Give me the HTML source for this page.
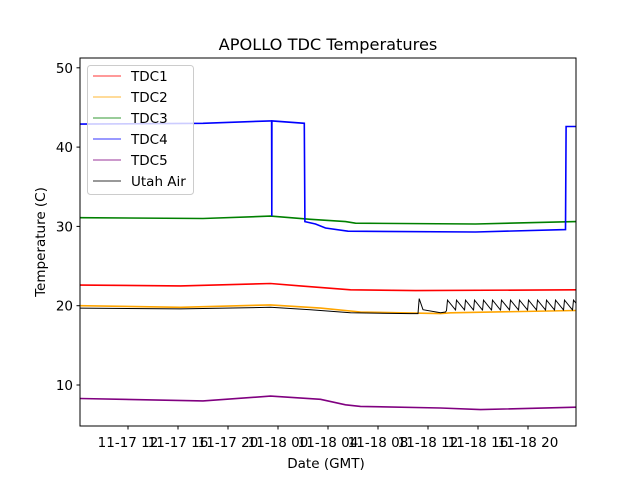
<!DOCTYPE html>
<html><head><meta charset="utf-8"><style>
body{margin:0;background:#fff;}
svg text{font-family:"DejaVu Sans","Liberation Sans",sans-serif;}
</style></head><body>
<svg id="chart" width="640" height="480" xmlns="http://www.w3.org/2000/svg">
<rect width="640" height="480" fill="#fff"/>
<text x="328" y="50" font-size="16.2" text-anchor="middle">APOLLO TDC Temperatures</text>
<g id="plot"></g>
<rect x="80" y="58" width="496" height="368" fill="none" stroke="#000" stroke-width="1"/>
<g id="axes"></g>
<text x="326" y="468" font-size="13.5" text-anchor="middle">Date (GMT)</text>
<text transform="translate(45,242) rotate(-90)" font-size="13.5" text-anchor="middle">Temperature (C)</text>
<g id="legend"></g>
</svg>
<script>
// hours since 11-17 00:00 GMT
const yTicks=[10,20,30,40,50];
const xTickHours=[12,16,20,24,28,32,36,40,44];
const xTickLabels=["11-17 12","11-17 16","11-17 20","11-18 00","11-18 04","11-18 08","11-18 12","11-18 16","11-18 20"];
const seriesNames=["TDC1","TDC2","TDC3","TDC4","TDC5","Utah Air"];
const seriesColors=["red","orange","green","blue","purple","black"];
const tdc1H=[8.16,16.2,23.4,25.8,29.8,35,47.84];
const tdc1V=[22.6,22.5,22.8,22.5,22.0,21.9,22.0];
const tdc2H=[8.16,16.2,23.4,27.4,30.6,37,37.8,47.84];
const tdc2V=[20.0,19.8,20.1,19.7,19.2,19.0,19.1,19.4];
const tdc3H=[8.16,18,23.4,26.6,29.4,30.2,39.8,47.84];
const tdc3V=[31.1,31.0,31.3,30.9,30.6,30.4,30.3,30.6];
const tdc4H=[8.16,18,23.4,23.49,23.5,23.51,26.1,26.15,27.0,27.8,29.6,39.8,47.0,47.05,47.84];
const tdc4V=[42.9,43.0,43.3,43.3,31.3,43.3,43.0,30.6,30.3,29.8,29.4,29.3,29.6,42.6,42.6];
const tdc5H=[8.16,18,23.4,27.4,29.4,30.6,37,40.2,47.84];
const tdc5V=[8.3,8.0,8.6,8.2,7.5,7.3,7.1,6.9,7.2];
const airH=[8.16,16.2,23.4,26.6,29.8,34.6,35.2,35.3,35.6,37,37.4];
const airV=[19.7,19.6,19.8,19.5,19.1,19.0,19.0,20.9,19.5,19.1,19.2];
const airPeakH=[37.56,38.28,39.0,39.72,40.44,41.16,41.88,42.6,43.32,44.04,44.76,45.48,46.2,46.92,47.64];
const airPeakV=20.7, airTroughV=19.4;

const X=h=>128+(h-12)*12.5;
const Y=v=>385-(v-10)*7.93;
const NS="http://www.w3.org/2000/svg";
function mk(tag,attrs,parent){const e=document.createElementNS(NS,tag);for(const k in attrs)e.setAttribute(k,attrs[k]);parent.appendChild(e);return e;}
const plot=document.getElementById('plot');
const axes=document.getElementById('axes');
const clip=mk('clipPath',{id:'cp'},mk('defs',{},plot));
mk('rect',{x:80,y:58,width:496,height:368},clip);
const g=mk('g',{'clip-path':'url(#cp)'},plot);

const aH=airH.slice(), aV=airV.slice();
airPeakH.forEach(h=>{aH.push(h-0.08);aV.push(airTroughV);aH.push(h);aV.push(airPeakV);aH.push(h+0.62);aV.push(airTroughV+0.1);});
const data=[[tdc1H,tdc1V],[tdc2H,tdc2V],[tdc3H,tdc3V],[tdc4H,tdc4V],[tdc5H,tdc5V],[aH,aV]];
const order=[1,0,2,3,4,5];
order.forEach(i=>{
  const [hs,vs]=data[i];
  const pts=hs.map((h,j)=>X(h).toFixed(1)+','+Y(vs[j]).toFixed(1)).join(' ');
  const p=mk('polyline',{points:pts,fill:'none',stroke:seriesColors[i],'stroke-width':i==5?1:1.6,'stroke-linejoin':'miter'},g);
  
  
});

yTicks.forEach(v=>{
  const y=Y(v);
  const t=mk('line',{x1:76.5,x2:80,y1:y,y2:y,stroke:'#000'},axes);
  
  
  const l=mk('text',{x:73,y:y+5,'font-size':13.5,'text-anchor':'end'},axes);
  l.textContent=v;
  
  
});
xTickHours.forEach((h,i)=>{
  const x=X(h);
  const t=mk('line',{x1:x,x2:x,y1:426,y2:429.5,stroke:'#000'},axes);
  
  
  const l=mk('text',{x:x,y:447,'font-size':13.5,'text-anchor':'middle'},axes);
  l.textContent=xTickLabels[i];
  
  
});

const lg=document.getElementById('legend');
mk('rect',{x:87.5,y:65.5,width:106,height:129,rx:3,fill:'#fff','fill-opacity':0.8,stroke:'#ccc'},lg);
seriesNames.forEach((n,i)=>{
  const y=76+i*21;
  const ln=mk('line',{x1:93,x2:121,y1:y,y2:y,stroke:seriesColors[i],'stroke-width':1,'stroke-opacity':0.8},lg);
  
  
  const tx=mk('text',{x:131,y:y+5,'font-size':13.5},lg);
  tx.textContent=n;
  
  
});
</script>
</body></html>
